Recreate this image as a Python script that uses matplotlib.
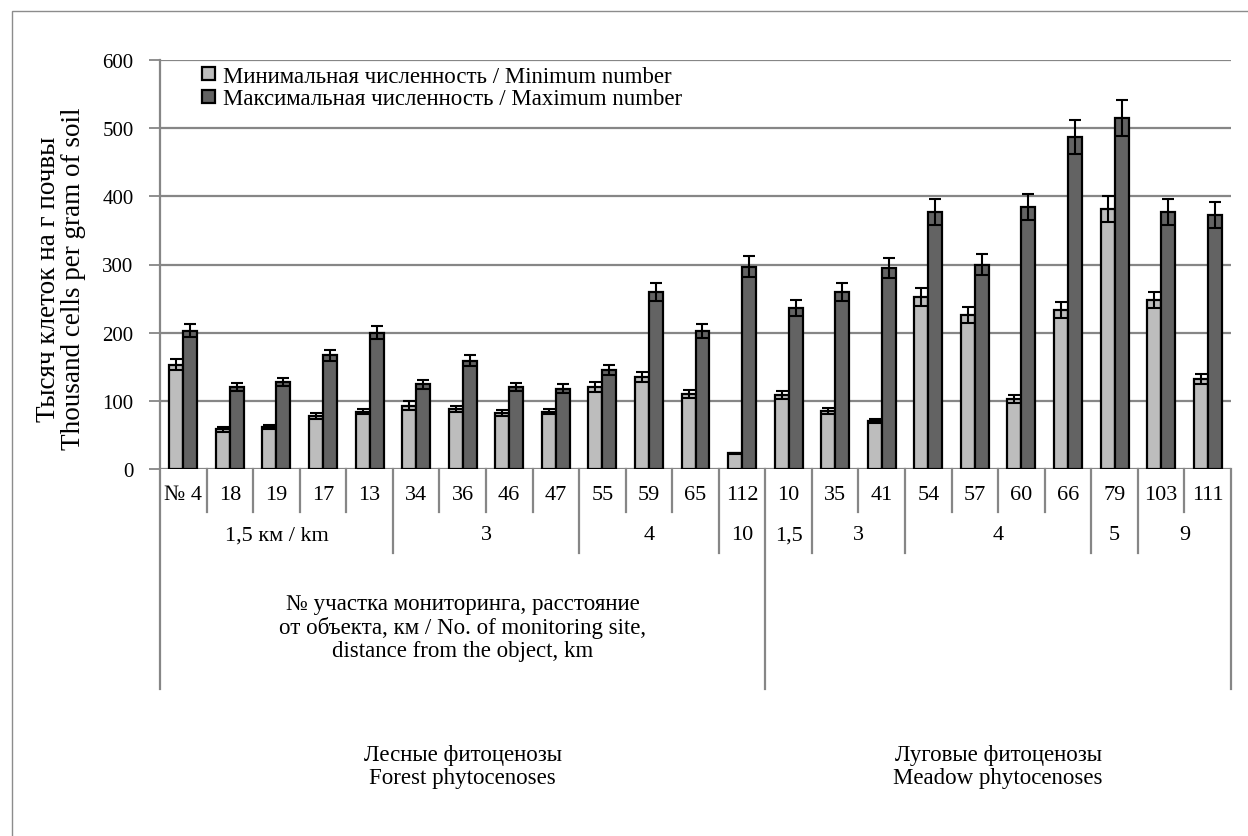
import matplotlib
matplotlib.use("Agg")
import matplotlib.pyplot as plt
import matplotlib.patches as mpatches
import numpy as np

plt.rcParams["font.family"] = ["Liberation Serif", "DejaVu Serif"]

# monitoring sites, in drawing order
sites = ["№ 4", "18", "19", "17", "13", "34", "36", "46", "47", "55", "59", "65", "112",
         "10", "35", "41", "54", "57", "60", "66", "79", "103", "111"]

# thousand cells per gram of soil
minCount = [153, 58, 62, 78, 84, 93, 88, 82, 84, 120, 135, 110, 23,
            108, 85, 70, 252, 226, 103, 233, 381, 248, 132]
minErr = [8, 3, 3, 4, 4, 7, 4, 4, 4, 7, 8, 6, 1,
          6, 4, 3, 13, 12, 6, 12, 19, 12, 7]
maxCount = [203, 120, 128, 167, 200, 124, 159, 120, 118, 145, 260, 202, 297,
            236, 260, 295, 377, 300, 384, 487, 515, 377, 372]
maxErr = [10, 6, 6, 8, 10, 6, 8, 6, 6, 7, 13, 10, 15,
          12, 13, 15, 19, 15, 19, 25, 26, 19, 19]

# distance from the object: (label, first site index, last site index)
distGroups = [("1,5 км / km", 0, 4), ("3", 5, 8), ("4", 9, 11), ("10", 12, 12),
              ("1,5", 13, 13), ("3", 14, 15), ("4", 16, 19), ("5", 20, 20), ("9", 21, 22)]

# plant communities
phytoGroups = [("Лесные фитоценозы\nForest phytocenoses", 0, 12),
               ("Луговые фитоценозы\nMeadow phytocenoses", 13, 22)]

minLabel = "Минимальная численность / Minimum number"
maxLabel = "Максимальная численность / Maximum number"
yLabel = "Тысяч клеток на г почвы\nThousand cells per gram of soil"
xTitle = "№ участка мониторинга, расстояние\nот объекта, км / No. of monitoring site,\ndistance from the object, km"

W, H = 1248, 837
gridColour = "#868686"
lightBar = "#bdbdbd"
darkBar = "#636363"

fig = plt.figure(figsize=(W / 100, H / 100), dpi=100)

# outer frame
fig.add_artist(mpatches.Rectangle((12 / W, -0.1), 1.2, 1 - 12 / H + 0.1,
                                  transform=fig.transFigure, fill=False,
                                  edgecolor="#8c8c8c", linewidth=1.0))

axL, axR, axT, axB = 160, 1231, 61, 470
ax = fig.add_axes([axL / W, 1 - axB / H, (axR - axL) / W, (axB - axT) / H])


def ay(py):
    # pixel row -> axes fraction
    return (axB - py) / (axB - axT)


x = np.arange(len(sites))
bw = 0.3
ax.bar(x - bw / 2, minCount, bw, color=lightBar, edgecolor="black", linewidth=1.6,
       label=minLabel, zorder=3)
ax.bar(x + bw / 2, maxCount, bw, color=darkBar, edgecolor="black", linewidth=1.6,
       label=maxLabel, zorder=3)
ax.errorbar(x - bw / 2, minCount, yerr=minErr, fmt="none", ecolor="black",
            elinewidth=1.5, capsize=4, capthick=1.5, zorder=4)
ax.errorbar(x + bw / 2, maxCount, yerr=maxErr, fmt="none", ecolor="black",
            elinewidth=1.5, capsize=4, capthick=1.5, zorder=4)

ax.set_xlim(-0.5, len(sites) - 0.5)
ax.set_ylim(0, 600)
ax.set_yticks(np.arange(0, 601, 100))
ax.yaxis.grid(True, color=gridColour, linewidth=1.6, zorder=0)
ax.set_axisbelow(True)
for s in ax.spines.values():
    s.set_visible(False)
ax.set_xticks([])
ax.tick_params(axis="y", length=8, width=1.3, color=gridColour, pad=11, labelsize=15)

xt = ax.get_xaxis_transform()
lineKw = dict(color=gridColour, linewidth=1.6, transform=xt, clip_on=False)

# y axis line running down through the category table
ax.plot([-0.5, -0.5], [ay(690), 1], **lineKw)
ax.plot([len(sites) - 0.5] * 2, [ay(690), 0], **lineKw)

# site row
rowSite, rowDist, rowBottom = ay(513), ay(554), ay(690)
groupEdges = {g[1] - 0.5 for g in distGroups}
phytoEdges = {g[1] - 0.5 for g in phytoGroups}
for i, name in enumerate(sites):
    ax.text(i, ay(495), name, transform=xt, ha="center", va="center", fontsize=16)
    edge = i - 0.5
    if i == 0:
        continue
    if edge in phytoEdges:
        ax.plot([edge, edge], [rowBottom, 0], **lineKw)
    elif edge in groupEdges:
        ax.plot([edge, edge], [rowDist, 0], **lineKw)
    else:
        ax.plot([edge, edge], [rowSite, 0], **lineKw)

# distance row
for label, a, b in distGroups:
    ax.text((a + b) / 2, ay(536), label, transform=xt, ha="center", va="center", fontsize=16)

# plant community row
for label, a, b in phytoGroups:
    ax.text((a + b) / 2, ay(767), label, transform=xt, ha="center", va="center",
            fontsize=16.5, linespacing=1.1)

forestMid = (phytoGroups[0][1] + phytoGroups[0][2]) / 2
ax.text(forestMid, ay(628), xTitle, transform=xt,
        ha="center", va="center", fontsize=16.5, linespacing=1.12)

fig.text(61 / W, 1 - 279 / H, yLabel, rotation=90, ha="center", va="center",
         fontsize=19.5, linespacing=1.05)

ax.legend(loc="upper left", bbox_to_anchor=((202 - axL) / (axR - axL), ay(67)),
          frameon=False, fontsize=16.5, handlelength=0.55, handleheight=0.5,
          handletextpad=0.35, labelspacing=0.06, borderaxespad=0, borderpad=0)

fig.savefig("out.png", dpi=100, facecolor="white")
